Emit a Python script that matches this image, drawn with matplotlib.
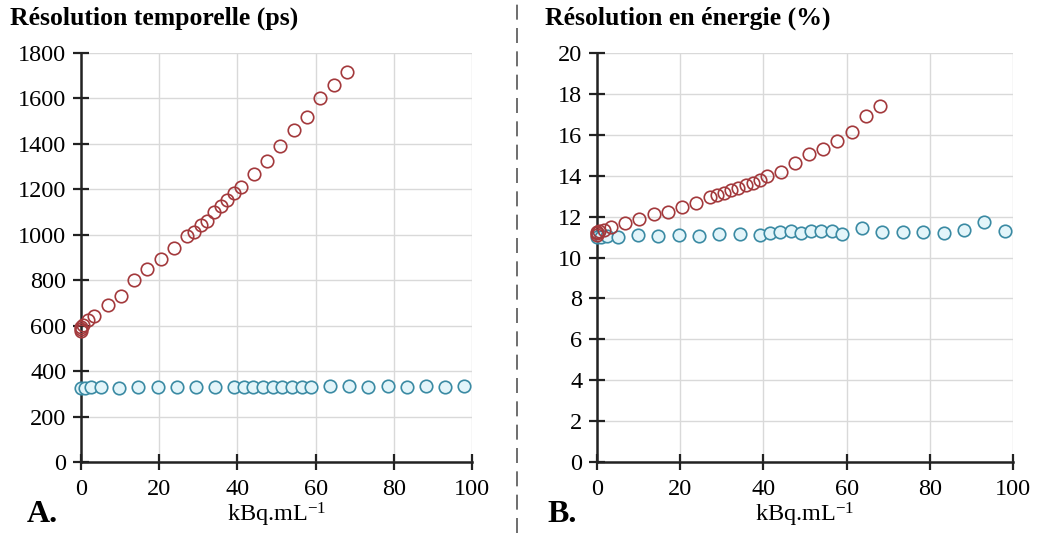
import matplotlib
matplotlib.use("Agg")
import matplotlib.pyplot as plt
from matplotlib.lines import Line2D

plt.rcParams['font.family'] = ['Liberation Serif', 'DejaVu Serif']
plt.rcParams['mathtext.default'] = 'regular'

# ---- data ----
blue_x = [0, 1, 2.5, 5, 9.8, 14.7, 19.6, 24.5, 29.4, 34.3, 39.2, 41.7, 44.1, 46.6,
          49, 51.5, 53.9, 56.4, 58.8, 63.7, 68.6, 73.5, 78.4, 83.3, 88.2, 93.1, 98]
blue_time = [325, 325, 328, 332, 326, 328, 328, 332, 330, 332, 330, 330, 332, 330,
             332, 330, 330, 332, 330, 334, 335, 330, 334, 330, 336, 330, 336]
blue_energy = [11.0, 11.0, 11.05, 11.0, 11.08, 11.03, 11.08, 11.05, 11.13, 11.17, 11.08,
               11.18, 11.23, 11.31, 11.18, 11.28, 11.28, 11.31, 11.13, 11.42, 11.23,
               11.23, 11.23, 11.18, 11.34, 11.75, 11.31]

red_x = [0, 0, 0, 0.5, 1.7, 3.4, 6.8, 10.2, 13.6, 17.0, 20.4, 23.8, 27.2, 28.9, 30.6,
         32.3, 34.0, 35.7, 37.4, 39.1, 40.8, 44.2, 47.6, 51.0, 54.4, 57.8, 61.2, 64.6, 68.0]
red_time = [575, 585, 595, 603, 625, 642, 691, 732, 800, 848, 892, 940, 995, 1012, 1043,
            1061, 1102, 1128, 1153, 1185, 1209, 1268, 1325, 1391, 1461, 1517, 1601, 1659, 1718]
red_energy = [11.1, 11.2, 11.25, 11.3, 11.35, 11.5, 11.7, 11.87, 12.13, 12.24, 12.49,
              12.65, 12.94, 13.06, 13.17, 13.30, 13.41, 13.54, 13.66, 13.79, 13.98,
              14.19, 14.63, 15.06, 15.33, 15.70, 16.12, 16.92, 17.41]

x_ticks = [0, 20, 40, 60, 80, 100]
time_ticks = list(range(0, 1801, 200))
energy_ticks = list(range(0, 21, 2))

titles = ["Résolution temporelle (ps)", "Résolution en énergie (%)"]
panel_labels = ["A.", "B."]
xlabel = "kBq.mL$^{-1}$"

BLUE_EDGE = '#3a8aa3'
BLUE_FACE = '#e3f5fa'
RED_EDGE = '#a3393c'

W, H = 1037, 533
fig = plt.figure(figsize=(W / 100, H / 100), dpi=100)

def axes_px(x0, x1, y0, y1):
    return fig.add_axes([x0 / W, 1 - y1 / H, (x1 - x0) / W, (y1 - y0) / H])

axA = axes_px(81, 472, 53, 462)
axB = axes_px(597, 1013, 53, 462)

for ax, by, ry, yt in [(axA, blue_time, red_time, time_ticks),
                       (axB, blue_energy, red_energy, energy_ticks)]:
    ax.plot(blue_x, by, linestyle='none', marker='o', markersize=9,
            markerfacecolor=BLUE_FACE, markeredgecolor=BLUE_EDGE, markeredgewidth=1.2,
            zorder=3, clip_on=False)
    ax.plot(red_x, ry, linestyle='none', marker='o', markersize=9,
            markerfacecolor='none', markeredgecolor=RED_EDGE, markeredgewidth=1.2,
            zorder=4, clip_on=False)
    ax.set_xlim(0, 100)
    ax.set_ylim(yt[0], yt[-1])
    ax.set_xticks(x_ticks)
    ax.set_yticks(yt)
    ax.grid(True, color='#d9d9d9', linewidth=1.0, zorder=0)
    ax.set_axisbelow(True)
    for s in ['top', 'right']:
        ax.spines[s].set_visible(False)
    for s in ['left', 'bottom']:
        ax.spines[s].set_linewidth(1.8)
        ax.spines[s].set_color('#222222')
    ax.tick_params(direction='inout', length=11, width=1.6, color='#222222',
                   labelsize=17.5, pad=5)
    ax.tick_params(axis='x', pad=7)
    ax.set_xlabel(xlabel, fontsize=17.5, labelpad=0)

fig.text(10 / W, 1 - 18 / H, titles[0], fontsize=18.5, fontweight='bold',
         ha='left', va='center')
fig.text(545 / W, 1 - 18 / H, titles[1], fontsize=18.5, fontweight='bold',
         ha='left', va='center')
fig.text(27 / W, 1 - 514 / H, panel_labels[0], fontsize=23, fontweight='bold',
         ha='left', va='center')
fig.text(547 / W, 1 - 514 / H, panel_labels[1], fontsize=23, fontweight='bold',
         ha='left', va='center')

fig.add_artist(Line2D([517 / W, 517 / W], [0, 1], transform=fig.transFigure,
                      color='#555555', linewidth=1.2, linestyle=(0, (9, 5))))

fig.savefig('out.png', dpi=100)
